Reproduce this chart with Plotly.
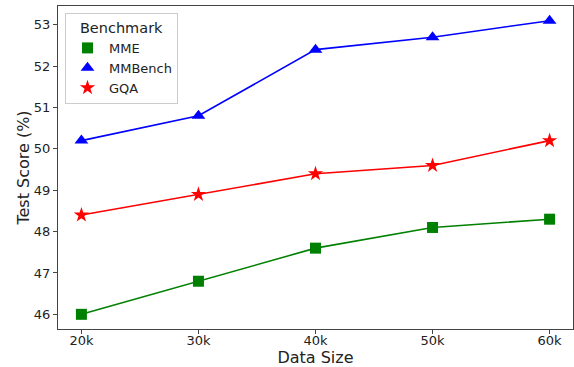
import plotly.graph_objects as go

data_sizes = [20, 30, 40, 50, 60]
tick_labels = ["20k", "30k", "40k", "50k", "60k"]
mme = [46.0, 46.8, 47.6, 48.1, 48.3]
mmbench = [50.2, 50.8, 52.4, 52.7, 53.1]
gqa = [48.4, 48.9, 49.4, 49.6, 50.2]

series = [
    ("MME", mme, "#008000", "square", 11),
    ("MMBench", mmbench, "#0000ff", "triangle-up", 12),
    ("GQA", gqa, "#ff0000", "star", 11.5),
]

fig = go.Figure()
for name, vals, color, sym, size in series:
    fig.add_trace(go.Scatter(
        x=data_sizes, y=vals, mode="lines+markers", name=name,
        line=dict(color=color, width=1.6),
        marker=dict(symbol=sym, size=size, color=color),
        showlegend=False,
    ))
for name, vals, color, sym, size in series:
    fig.add_trace(go.Scatter(
        x=[None], y=[None], mode="markers", name=name,
        marker=dict(symbol=sym, size=size, color=color),
        showlegend=True,
    ))

axis_common = dict(
    showline=True, linecolor="#444", linewidth=1, mirror=True,
    ticks="outside", ticklen=4, tickcolor="#444", tickwidth=1,
    showgrid=False, zeroline=False, automargin=False,
    tickfont=dict(family="DejaVu Sans", size=13, color="#222"),
)

fig.update_layout(
    width=574, height=367,
    margin=dict(l=58, r=1, t=6, b=38),
    plot_bgcolor="white", paper_bgcolor="white",
    font=dict(family="DejaVu Sans", color="#222"),
    xaxis=dict(
        **axis_common, range=[18, 62],
        tickvals=data_sizes, ticktext=tick_labels, ticklabelstandoff=-5,
        title=dict(text="Data Size", font=dict(size=16), standoff=12),
    ),
    yaxis=dict(
        **axis_common, range=[45.645, 53.455],
        tickvals=[46, 47, 48, 49, 50, 51, 52, 53],
        title=dict(text="Test Score (%)", font=dict(size=16), standoff=0),
    ),
    legend=dict(
        x=0.0136, y=0.978, xanchor="left", yanchor="top",
        bgcolor="white", bordercolor="#cccccc", borderwidth=1,
        font=dict(size=13), itemwidth=33,
        title=dict(text="Benchmark", side="top center", font=dict(size=14.5)),
        tracegroupgap=0,
    ),
)

fig.write_html(
    "out.html",
    config={"displayModeBar": False},
    post_script="document.body.style.margin='0';document.body.style.overflow='hidden';",
)
